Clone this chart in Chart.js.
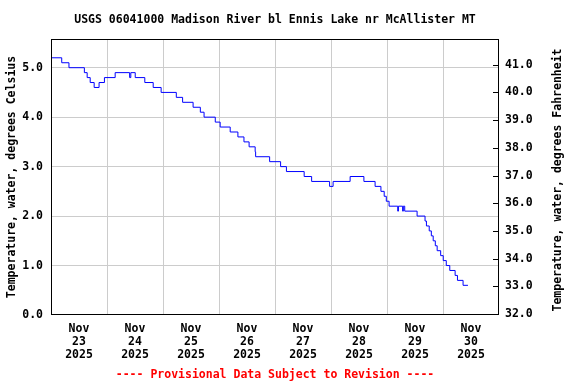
<!DOCTYPE html>
<html>
<head>
<meta charset="utf-8">
<script src="https://cdn.jsdelivr.net/npm/chart.js@4"></script>
<style>
  html, body { margin:0; padding:0; background:#fff; }
  #wrap { width:576px; height:384px; }
</style>
</head>
<body>
<div id="wrap"><canvas id="ch"></canvas></div>
<script>
// ── data ────────────────────────────────────────────────────────────────────
// hours since Nov 23 2025 00:00, value holds until the next change
const hours = [0, 4.6, 7.7, 14.3, 15.5, 16.8, 18.5, 20.6, 22.9, 27.5,
  33.7, 34.2, 36.1, 40.2, 43.8, 47.2, 53.7, 56.4, 60.9, 64.0,
  65.6, 70.4, 72.5, 76.8, 80.1, 82.7, 84.9, 87.5, 87.7, 93.7,
  98.4, 100.9, 108.5, 111.7, 119.4, 120.9, 128.2, 134.1, 138.9, 141.4,
  142.8, 143.7, 144.9, 148.6, 148.9, 150.7, 151.0, 151.6, 156.9, 160.3,
  160.9, 162.1, 163.0, 163.8, 164.7, 165.5, 167.0, 168.1, 169.4, 170.9,
  173.2, 174.2, 176.6, 178.7];
const tempC = [5.2, 5.1, 5.0, 4.9, 4.8, 4.7, 4.6, 4.7, 4.8, 4.9,
  4.8, 4.9, 4.8, 4.7, 4.6, 4.5, 4.4, 4.3, 4.2, 4.1,
  4.0, 3.9, 3.8, 3.7, 3.6, 3.5, 3.4, 3.3, 3.2, 3.1,
  3.0, 2.9, 2.8, 2.7, 2.6, 2.7, 2.8, 2.7, 2.6, 2.5,
  2.4, 2.3, 2.2, 2.1, 2.2, 2.1, 2.2, 2.1, 2.0, 1.9,
  1.8, 1.7, 1.6, 1.5, 1.4, 1.3, 1.2, 1.1, 1.0, 0.9,
  0.8, 0.7, 0.6, 0.6];

const month = 'Nov';
const days = ['23', '24', '25', '26', '27', '28', '29', '30'];
const year = '2025';

const title = 'USGS 06041000 Madison River bl Ennis Lake nr McAllister MT';
const footer = '---- Provisional Data Subject to Revision ----';
const leftTitle = 'Temperature, water, degrees Celsius';
const rightTitle = 'Temperature, water, degrees Fahrenheit';

const FONT = '"DejaVu Sans Mono", "Liberation Mono", monospace';
const GRID = '#cccccc';

// ── texts, border, inward ticks ─────────────────────────────────────────────
const decor = {
  id: 'decor',
  afterDraw(chart) {
    const { ctx, chartArea: a, scales } = chart;
    ctx.save();
    ctx.strokeStyle = '#000';
    ctx.lineWidth = 1;
    ctx.strokeRect(a.left + 0.5, a.top + 0.5, a.right - a.left - 1, a.bottom - a.top - 1);

    // short inward ticks for the Fahrenheit axis
    const yR = scales.yR;
    yR.ticks.forEach(t => {
      const y = Math.round(yR.getPixelForValue(t.value)) + 0.5;
      ctx.beginPath(); ctx.moveTo(a.right - 6, y); ctx.lineTo(a.right, y); ctx.stroke();
    });

    ctx.font = 'bold 11.5px ' + FONT;
    ctx.fillStyle = '#000';
    ctx.textAlign = 'center';
    ctx.textBaseline = 'middle';
    ctx.fillText(title, 275, 20);

    ctx.fillStyle = '#ff0000';
    ctx.fillText(footer, 275, 375);

    ctx.fillStyle = '#000';
    ctx.save(); ctx.translate(12, 177); ctx.rotate(-Math.PI / 2); ctx.fillText(leftTitle, 0, 0); ctx.restore();
    ctx.save(); ctx.translate(558, 180); ctx.rotate(-Math.PI / 2); ctx.fillText(rightTitle, 0, 0); ctx.restore();
    ctx.restore();
  }
};

new Chart(document.getElementById('ch'), {
  type: 'line',
  data: {
    datasets: [{
      data: hours.map((h, i) => ({ x: h, y: tempC[i] })),
      borderColor: '#0000ff',
      borderWidth: 1,
      pointRadius: 0,
      stepped: true,
      fill: false,
    }]
  },
  options: {
    responsive: true, maintainAspectRatio: false, animation: false,
    layout: { padding: { top: 39, bottom: 19, left: 0, right: 0 } },
    plugins: { legend: { display: false }, tooltip: { enabled: false } },
    scales: {
      x: {
        type: 'linear', min: 0, max: 192,
        afterFit(s) { s.height = 50; },
        afterBuildTicks(s) {
          const t = [];
          for (let v = 0; v <= 192; v += 12) t.push({ value: v });
          s.ticks = t;
        },
        grid: {
          drawTicks: false,
          color: c => (c.tick && c.tick.value % 24 === 0 && c.tick.value > 0 && c.tick.value < 192) ? GRID : 'rgba(0,0,0,0)',
        },
        border: { display: false },
        ticks: {
          autoSkip: false, maxRotation: 0, padding: 8, color: '#000',
          font: { family: FONT, size: 11.5, weight: 'bold', lineHeight: 1.13 },
          callback: v => (v % 24 === 12) ? [month, days[(v - 12) / 24], year] : '',
        },
      },
      y: {
        position: 'left', min: 0, max: 5.58,
        afterFit(s) { s.width = 51; },
        grid: { drawTicks: false, color: c => (c.tick && c.tick.value > 0) ? GRID : 'rgba(0,0,0,0)' },
        border: { display: false },
        ticks: {
          stepSize: 1, includeBounds: false, padding: 8, color: '#000',
          font: { family: FONT, size: 11.5, weight: 'bold' },
          callback: v => v.toFixed(1),
        },
      },
      yR: {
        position: 'right', min: 31.964, max: 41.93,
        afterFit(s) { s.width = 77; },
        grid: { drawOnChartArea: false, drawTicks: false },
        border: { display: false },
        ticks: {
          stepSize: 1, includeBounds: false, padding: 6, color: '#000',
          font: { family: FONT, size: 11.5, weight: 'bold' },
          callback: v => v.toFixed(1),
        },
      },
    },
  },
  plugins: [decor],
});
</script>
</body>
</html>
